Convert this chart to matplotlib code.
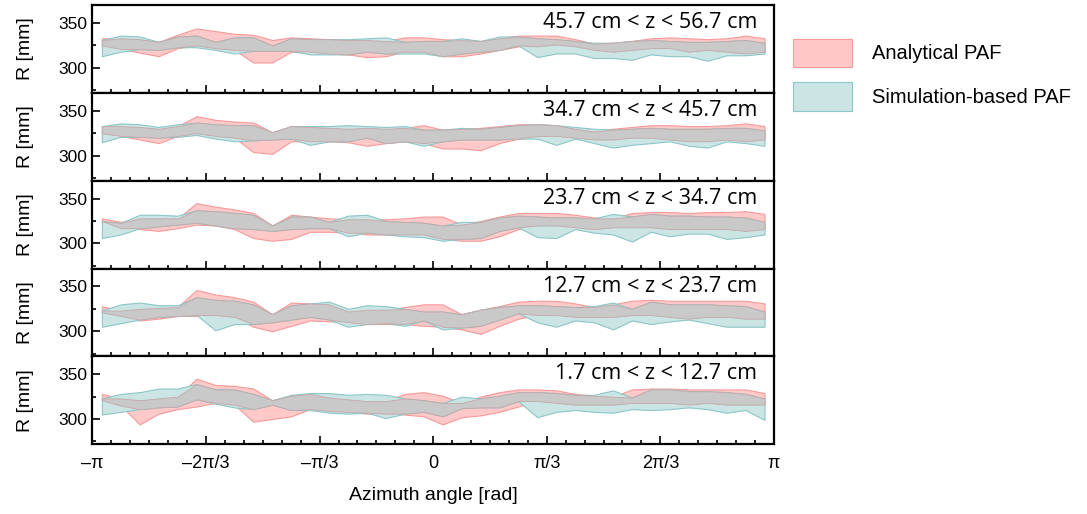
import numpy as np
import matplotlib.pyplot as plt
from matplotlib.patches import Patch

plt.rcParams['font.family'] = ['Liberation Sans', 'DejaVu Sans']

# bin centres: 36 azimuth bins of 10 degrees
phi = np.deg2rad(np.arange(-175, 180, 10))

z_labels = ["45.7 cm < z < 56.7 cm", "34.7 cm < z < 45.7 cm", "23.7 cm < z < 34.7 cm",
            "12.7 cm < z < 23.7 cm", "1.7 cm < z < 12.7 cm"]

# analytical PAF band (upper / lower), one row per z slice
ana_hi = [
    [333, 333, 332, 329, 337, 344, 341, 338, 337, 331, 334, 333, 332, 331, 331, 330, 334, 334, 332, 331, 330, 333, 336, 336, 336, 332, 327, 328, 330, 333, 334, 333, 332, 333, 336, 333],
    [333, 333, 332, 330, 333, 344, 340, 338, 337, 326, 333, 332, 331, 330, 331, 330, 331, 334, 329, 330, 331, 333, 335, 335, 334, 330, 327, 330, 332, 334, 334, 333, 333, 334, 336, 333],
    [328, 324, 328, 328, 328, 345, 341, 338, 334, 320, 332, 330, 328, 327, 327, 327, 328, 330, 330, 321, 325, 330, 334, 334, 334, 332, 329, 328, 334, 335, 335, 334, 335, 335, 336, 333],
    [328, 323, 325, 326, 327, 346, 341, 338, 333, 319, 332, 331, 330, 322, 324, 324, 327, 330, 330, 319, 324, 328, 333, 334, 334, 331, 327, 330, 334, 335, 334, 334, 334, 334, 334, 331],
    [328, 323, 321, 323, 325, 345, 338, 337, 334, 321, 326, 328, 324, 322, 320, 320, 328, 330, 326, 318, 325, 330, 333, 333, 332, 328, 326, 325, 333, 334, 334, 333, 333, 333, 333, 329],
]
ana_lo = [
    [325, 321, 317, 313, 322, 325, 322, 320, 306, 306, 318, 318, 316, 315, 312, 313, 318, 318, 313, 313, 316, 320, 324, 324, 326, 324, 320, 318, 320, 322, 322, 318, 320, 318, 316, 318],
    [325, 322, 318, 314, 322, 325, 322, 320, 304, 302, 316, 316, 316, 315, 311, 314, 316, 314, 308, 308, 306, 314, 319, 322, 322, 320, 318, 318, 320, 320, 318, 316, 316, 318, 316, 318],
    [325, 317, 316, 314, 317, 321, 320, 316, 306, 303, 305, 313, 313, 312, 310, 310, 310, 310, 305, 303, 303, 308, 316, 320, 320, 318, 316, 318, 318, 318, 316, 316, 316, 316, 314, 316],
    [321, 317, 312, 314, 317, 317, 318, 316, 305, 300, 306, 312, 311, 310, 308, 308, 308, 306, 305, 302, 297, 306, 314, 318, 318, 316, 316, 316, 318, 318, 316, 314, 316, 316, 314, 314],
    [321, 315, 294, 306, 311, 314, 318, 316, 297, 300, 303, 311, 309, 308, 306, 306, 305, 303, 294, 302, 304, 308, 314, 320, 318, 316, 316, 316, 318, 318, 318, 316, 318, 316, 316, 316],
]
# simulation-based PAF band
sim_hi = [
    [331, 336, 335, 329, 335, 336, 329, 334, 334, 325, 333, 332, 332, 332, 333, 334, 329, 330, 330, 333, 330, 335, 335, 333, 332, 330, 328, 328, 330, 331, 330, 329, 329, 330, 331, 328],
    [333, 336, 335, 332, 335, 337, 335, 334, 334, 326, 333, 333, 333, 334, 333, 332, 333, 329, 329, 331, 330, 332, 334, 335, 334, 332, 330, 329, 330, 331, 330, 330, 330, 331, 331, 328],
    [325, 323, 332, 332, 331, 337, 336, 334, 332, 320, 330, 330, 324, 331, 332, 325, 324, 323, 320, 324, 324, 329, 331, 330, 329, 329, 328, 333, 330, 333, 331, 331, 330, 330, 329, 324],
    [323, 330, 332, 329, 329, 338, 335, 334, 330, 319, 329, 331, 333, 325, 329, 328, 325, 322, 322, 319, 324, 327, 329, 329, 328, 327, 328, 332, 325, 333, 330, 330, 330, 329, 328, 322],
    [323, 328, 330, 334, 334, 339, 333, 333, 328, 321, 327, 329, 329, 327, 328, 327, 323, 321, 318, 325, 323, 326, 330, 330, 329, 327, 327, 332, 324, 333, 333, 331, 331, 330, 328, 323],
]
sim_lo = [
    [313, 318, 321, 320, 323, 323, 320, 316, 319, 319, 319, 315, 315, 315, 318, 316, 316, 316, 313, 316, 318, 320, 325, 312, 316, 316, 311, 311, 309, 315, 313, 313, 308, 314, 314, 316],
    [315, 321, 321, 320, 321, 323, 319, 316, 317, 318, 319, 312, 316, 316, 320, 314, 316, 311, 316, 318, 318, 318, 319, 319, 312, 319, 314, 309, 312, 314, 316, 311, 309, 316, 314, 311],
    [306, 310, 317, 319, 321, 323, 320, 317, 316, 314, 316, 317, 317, 308, 312, 310, 308, 307, 303, 305, 306, 314, 318, 307, 306, 316, 312, 310, 302, 313, 308, 311, 311, 305, 307, 310],
    [305, 309, 313, 316, 317, 318, 301, 308, 308, 310, 313, 316, 313, 305, 308, 309, 306, 312, 302, 304, 306, 313, 320, 310, 305, 312, 310, 302, 312, 308, 311, 313, 309, 305, 305, 305],
    [305, 308, 311, 313, 314, 322, 317, 313, 311, 316, 310, 310, 307, 306, 307, 301, 306, 308, 303, 312, 313, 313, 320, 302, 308, 310, 308, 307, 311, 310, 311, 313, 311, 307, 310, 299],
]

pink_face, pink_edge = '#ffc9c9', '#f59a9a'
teal_face, teal_edge = '#cbe5e5', '#8cc6c6'
grey_face, grey_edge = '#c9c9c9', '#c4a7a7'

fig, axes = plt.subplots(5, 1, figsize=(10.87, 5.14), dpi=100, sharex=True)
fig.subplots_adjust(left=0.085, right=0.712, top=0.99, bottom=0.136, hspace=0)

for k, ax in enumerate(axes):
    ah, al = np.array(ana_hi[k]), np.array(ana_lo[k])
    sh, sl = np.array(sim_hi[k]), np.array(sim_lo[k])
    ax.fill_between(phi, al, ah, facecolor=pink_face, edgecolor=pink_edge, lw=0.8)
    ax.fill_between(phi, sl, sh, facecolor=teal_face, edgecolor=teal_edge, lw=0.8)
    lo = np.maximum(al, sl)
    hi = np.minimum(ah, sh)
    ax.fill_between(phi, lo, hi, where=hi > lo, interpolate=True,
                    facecolor=grey_face, edgecolor=grey_edge, lw=0.6)
    ax.set_xlim(-np.pi, np.pi)
    ax.set_ylim(272, 370)
    ax.set_yticks([300, 350])
    ax.set_yticks([275, 325], minor=True)
    ax.set_xticks(np.pi * np.arange(-3, 4) / 3)
    ax.set_xticks(np.pi * np.arange(-18, 19) / 18, minor=True)
    ax.tick_params(which='both', direction='in', top=False, right=False,
                   labelsize=12.5, width=1.2)
    ax.tick_params(which='major', length=6)
    ax.tick_params(which='minor', length=3)
    for s in ax.spines.values():
        s.set_linewidth(1.6)
    ax.set_ylabel("R [mm]", fontsize=14, labelpad=18)
    ax.text(0.975, 0.8, z_labels[k], transform=ax.transAxes, ha='right', va='center',
            fontsize=15.5, family=['Open Sans', 'DejaVu Sans'])

axes[-1].set_xticklabels(["\u2013\u03c0", "\u20132\u03c0/3", "\u2013\u03c0/3", "0",
                          "\u03c0/3", "2\u03c0/3", "\u03c0"])
axes[-1].tick_params(axis='x', pad=8, labelsize=13)
axes[-1].set_xlabel("Azimuth angle [rad]", fontsize=14, labelpad=11)
fig.align_ylabels(axes)

handles = [Patch(facecolor=pink_face, edgecolor=pink_edge, lw=0.8, label="Analytical PAF"),
           Patch(facecolor=teal_face, edgecolor=teal_edge, lw=0.8, label="Simulation-based PAF")]
fig.legend(handles=handles, loc='upper left', bbox_to_anchor=(0.713, 0.96), frameon=False,
           fontsize=14.5, handlelength=2.9, handleheight=1.8, labelspacing=0.75, handletextpad=1.0)

fig.savefig("out.png", dpi=100)
